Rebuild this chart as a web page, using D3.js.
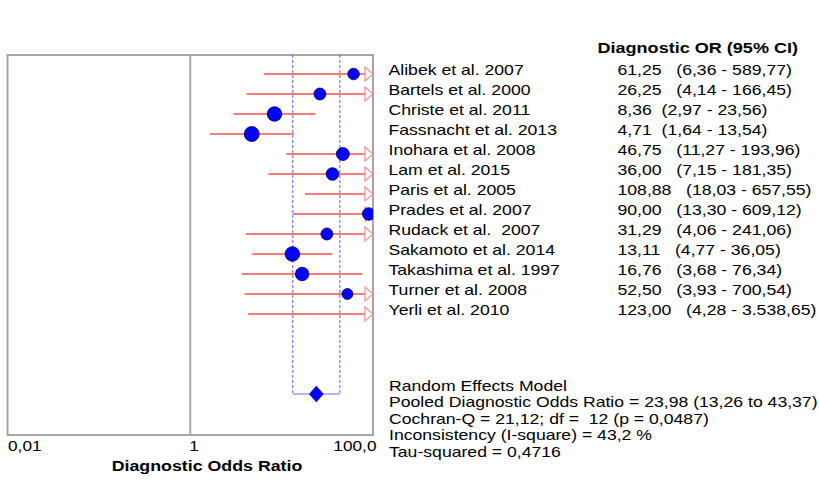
<!DOCTYPE html>
<html><head><meta charset="utf-8">
<script src="https://cdn.jsdelivr.net/npm/d3@7"></script>
<style>
body{margin:0;background:#fff}
svg text{font-family:"Liberation Sans",Arial,sans-serif;fill:#000}
</style>
</head><body>
<svg id="chart" width="819" height="491"></svg>
<script>
const studies = ["Alibek et al. 2007","Bartels et al. 2000","Christe et al. 2011","Fassnacht et al. 2013","Inohara et al. 2008","Lam et al. 2015","Paris et al. 2005","Prades et al. 2007","Rudack et al.  2007","Sakamoto et al. 2014","Takashima et al. 1997","Turner et al. 2008","Yerli et al. 2010"];
const dor    = [61.25, 26.25, 8.36, 4.71, 46.75, 36.00, 108.88, 90.00, 31.29, 13.11, 16.76, 52.50, 123.00];
const ciLow  = [6.36, 4.14, 2.97, 1.64, 11.27, 7.15, 18.03, 13.30, 4.06, 4.77, 3.68, 3.93, 4.28];
const ciHigh = [589.77, 166.45, 23.56, 13.54, 193.96, 181.35, 657.55, 609.12, 241.06, 36.05, 76.34, 700.54, 3538.65];
const weights = [6.3, 6.7, 9.9, 10.5, 7.9, 7.5, 7.9, 7.5, 6.7, 9.9, 8.6, 5.6, 5.2];
const dorLabels = ["61,25","26,25","8,36","4,71","46,75","36,00","108,88","90,00","31,29","13,11","16,76","52,50","123,00"];
const ciLabels = ["(6,36 - 589,77)","(4,14 - 166,45)","(2,97 - 23,56)","(1,64 - 13,54)","(11,27 - 193,96)","(7,15 - 181,35)","(18,03 - 657,55)","(13,30 - 609,12)","(4,06 - 241,06)","(4,77 - 36,05)","(3,68 - 76,34)","(3,93 - 700,54)","(4,28 - 3.538,65)"];
const pooled = [23.98, 13.26, 43.37];
const tickValues = [0.01, 1, 100];
const tickLabels = ["0,01", "1", "100,0"];
const headerLabel = "Diagnostic OR (95% CI)";
const axisTitle = "Diagnostic Odds Ratio";
const summaryLines = ["Random Effects Model","Pooled Diagnostic Odds Ratio = 23,98 (13,26 to 43,37)","Cochran-Q = 21,12; df =  12 (p = 0,0487)","Inconsistency (I-square) = 43,2 %","Tau-squared = 0,4716"];

const svg = d3.select("#chart");
const plot = {left: 7.5, right: 373, top: 55, bottom: 435};
const x = d3.scaleLog().domain([0.01, 100]).range([plot.left, plot.right]);
const y = d3.scaleLinear().domain([0, 16]).range([74, 394]);
const r = d3.scaleSqrt().domain([0, d3.max(weights)]).range([0, 7.5]);
const SX = 1.26;
const FONT = "'Liberation Sans',Arial,sans-serif";

function stext(g, xx, yy, str, opts = {}) {
  const t = g.append("text")
    .attr("transform", `translate(${xx},${yy}) scale(${opts.sx || SX},1)`)
    .attr("text-anchor", opts.anchor || "start")
    .style("font-size", (opts.size || 14) + "px")
    .style("white-space", "pre")
    .text(str);
  if (opts.bold) t.style("font-weight", "bold");
  return t;
}

svg.append("defs").append("clipPath").attr("id", "pc")
  .append("rect").attr("x", plot.left).attr("y", plot.top)
  .attr("width", plot.right - plot.left).attr("height", plot.bottom - plot.top);

// frame
svg.append("rect").attr("x", plot.left).attr("y", plot.top)
  .attr("width", plot.right - plot.left).attr("height", plot.bottom - plot.top)
  .attr("fill", "none").attr("stroke", "#a6a6a6").attr("stroke-width", 2);
svg.append("line").attr("x1", x(1)).attr("x2", x(1)).attr("y1", plot.top).attr("y2", plot.bottom)
  .attr("stroke", "#a6a6a6").attr("stroke-width", 2);

const gp = svg.append("g").attr("clip-path", "url(#pc)");

// pooled CI dashed box
[pooled[1], pooled[2]].forEach(v => {
  gp.append("line").attr("x1", x(v)).attr("x2", x(v)).attr("y1", plot.top).attr("y2", y(16))
    .attr("stroke", "#5a5aff").attr("stroke-width", 1).attr("stroke-dasharray", "3,2");
});
gp.append("line").attr("x1", x(pooled[1])).attr("x2", x(pooled[2])).attr("y1", y(16)).attr("y2", y(16))
  .attr("stroke", "#9a9aff").attr("stroke-width", 1.5);

// CI lines and arrows
const maxX = x.domain()[1];
studies.forEach((s, i) => {
  const lo = Math.max(ciLow[i], x.domain()[0]);
  const arrow = ciHigh[i] > maxX;
  const x2 = arrow ? x(maxX) - 8 : x(ciHigh[i]);
  gp.append("line").attr("x1", x(lo)).attr("x2", x2).attr("y1", y(i)).attr("y2", y(i))
    .attr("stroke", "#ff4d4d").attr("stroke-width", 1.4);
  if (arrow) {
    const xe = x(maxX);
    gp.append("path")
      .attr("d", `M${xe - 8},${y(i) - 7}L${xe},${y(i)}L${xe - 8},${y(i) + 7}Z`)
      .attr("fill", "none").attr("stroke", "#ff8c8c").attr("stroke-width", 1.2);
  }
});

// points (only those inside the axis range)
gp.selectAll("circle.pt").data(dor.map((d, i) => ({d, i})).filter(o => o.d <= maxX)).join("circle").attr("class", "pt")
  .attr("cx", o => x(o.d)).attr("cy", o => y(o.i)).attr("r", o => r(weights[o.i]))
  .attr("fill", "#0000ff").attr("stroke", "#000050").attr("stroke-width", 0.8);

// diamond
const dx = x(pooled[0]), dy = y(16);
gp.append("path").attr("d", `M${dx - 7},${dy}L${dx},${dy - 8}L${dx + 7},${dy}L${dx},${dy + 8}Z`)
  .attr("fill", "#0000ff").attr("stroke", "#000080").attr("stroke-width", 0.5);

// axis
const ax = svg.append("g").attr("transform", `translate(0,${plot.bottom})`)
  .call(d3.axisBottom(x).tickValues(tickValues).tickFormat((d, i) => tickLabels[i]).tickSize(0));
ax.select(".domain").remove();
ax.selectAll(".tick text").each(function(d, i) {
  const last = i === tickLabels.length - 1;
  const px = i === 0 ? 0 : (last ? 3 : -1.5);
  d3.select(this)
    .attr("x", 0).attr("y", 16.5).attr("dy", 0)
    .style("font-size", "15px").style("font-family", FONT).attr("fill", "#000")
    .attr("text-anchor", last ? "end" : "start")
    .attr("transform", `translate(${px},0) scale(1.15,1)`);
});
stext(svg, 207, 471, axisTitle, {bold: true, anchor: "middle", sx: 1.27});

// right table
const tg = svg.append("g");
stext(tg, 798, 53, headerLabel, {bold: true, anchor: "end", sx: 1.29});
studies.forEach((s, i) => {
  stext(tg, 388.5, y(i) + 0.5, s);
  const gap = dorLabels[i].length >= 5 ? "   " : "  ";
  stext(tg, 617.5, y(i) + 0.5, dorLabels[i] + gap + ciLabels[i]);
});
summaryLines.forEach((l, i) => stext(tg, 389, 391 + i * 16.4, l));
</script>
</body></html>
